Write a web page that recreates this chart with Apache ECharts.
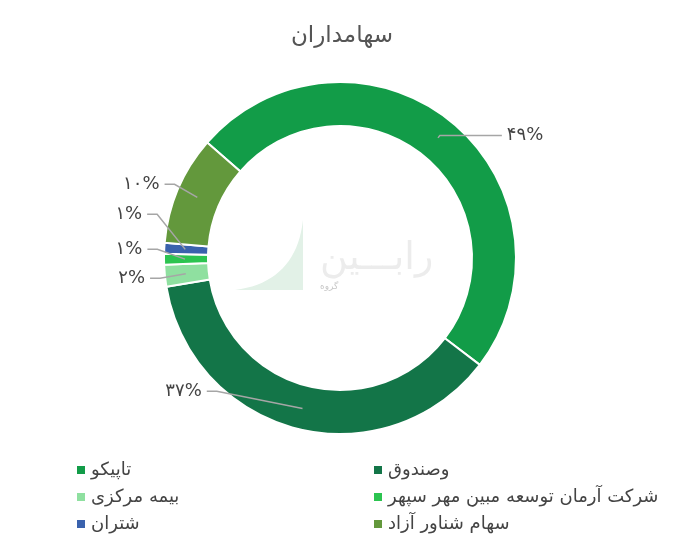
<!DOCTYPE html>
<html><head><meta charset="utf-8">
<script src="https://cdn.jsdelivr.net/npm/echarts@6/dist/echarts.min.js"></script>
<style>html,body{margin:0;padding:0;background:#fff}#c{width:684px;height:551px}</style>
</head><body><div id="c"></div>
<script>
var titleText = 'سهامداران';
var categories = ['تاپیکو', 'وصندوق', 'بیمه مرکزی', 'شرکت آرمان توسعه مبین مهر سپهر', 'شتران', 'سهام شناور آزاد'];
var values = [49, 37, 2, 1, 1, 10];
var colors = ['#129c48', '#137548', '#8fe0a0', '#2cc450', '#3a62ad', '#63983c'];
var leftLegend = ['تاپیکو', 'بیمه مرکزی', 'شتران'];
var rightLegend = ['وصندوق', 'شرکت آرمان توسعه مبین مهر سپهر', 'سهام شناور آزاد'];

function fa(n){ return String(n).replace(/[0-9]/g, function(d){ return '۰۱۲۳۴۵۶۷۸۹'[+d]; }); }
var FONT = "'DejaVu Sans', sans-serif";
var center = [340, 258];
var startAngle = 139;

// decorative watermark curve
var wm = [];
for (var t = 0; t <= 1.0001; t += 0.05) {
  var x = (1-t)*(1-t)*235 + 2*(1-t)*t*296 + t*t*303;
  var y = (1-t)*(1-t)*290 + 2*(1-t)*t*282 + t*t*220;
  wm.push([x, y]);
}
wm.push([303, 290]);

var ringData = categories.map(function(c, i){ return { name: c, value: values[i], itemStyle: { color: colors[i] } }; });
var len2 = [62, 95, 40, 40, 40, 30];
var labelData = categories.map(function(c, i){
  return { name: c, value: values[i], labelLine: { length2: len2[i] } };
});
// vertical nudges of the labels (style only)
var labelShift = [0, -20, -11, -20, -35, -12];

var chart = echarts.init(document.getElementById('c'), null, { renderer: 'canvas' });
chart.setOption({
  animation: false,
  color: colors,
  title: { text: titleText, left: 'center', top: 20, textStyle: { fontFamily: FONT, fontSize: 23, fontWeight: 'normal', color: '#555' } },
  legend: [
    { data: leftLegend, orient: 'vertical', left: 70, top: 456, itemWidth: 10, itemHeight: 10, icon: 'rect', itemGap: 9,
      textStyle: { fontFamily: FONT, fontSize: 18, color: '#444' } },
    { data: rightLegend, orient: 'vertical', left: 367, top: 456, itemWidth: 10, itemHeight: 10, icon: 'rect', itemGap: 9,
      textStyle: { fontFamily: FONT, fontSize: 18, color: '#444' } }
  ],
  graphic: [
    { type: 'polygon', shape: { points: wm }, style: { fill: '#e2f1e7' }, silent: true },
    { type: 'text', left: 320, top: 240, style: { text: 'رابـــین', font: "38px 'DejaVu Sans'", fill: '#ececec' }, silent: true },
    { type: 'text', left: 320, top: 282, style: { text: 'گروه', font: "9px 'DejaVu Sans'", fill: '#c8c8c8' }, silent: true }
  ],
  series: [
    { type: 'pie', name: 'ring', center: center, radius: [132, 176], startAngle: startAngle, clockwise: true,
      label: { show: false }, labelLine: { show: false }, silent: true,
      itemStyle: { borderColor: '#fff', borderWidth: 2 },
      data: ringData },
    { type: 'pie', name: 'labels', center: center, radius: [0, 155], startAngle: startAngle, clockwise: true, silent: true,
      itemStyle: { color: 'rgba(0,0,0,0)' }, z: 5,
      label: { show: true, formatter: function(p){ return fa(p.value) + '%'; }, fontFamily: FONT, fontSize: 18, color: '#444' },
      labelLine: { show: true, length: 3, length2: 40, lineStyle: { color: '#a6a6a6', width: 1.5 } },
      labelLayout: function(p){
        var d = labelShift[p.dataIndex];
        if (d && p.labelLinePoints) {
          var pts = p.labelLinePoints;
          var a = pts[0], e = pts[pts.length - 1];
          var dir = e[0] < a[0] ? 1 : -1;
          return { dy: d, labelLinePoints: [a, [e[0] + dir * 10, e[1] + d], [e[0], e[1] + d]] };
        }
      },
      data: labelData }
  ]
});
</script></body></html>
